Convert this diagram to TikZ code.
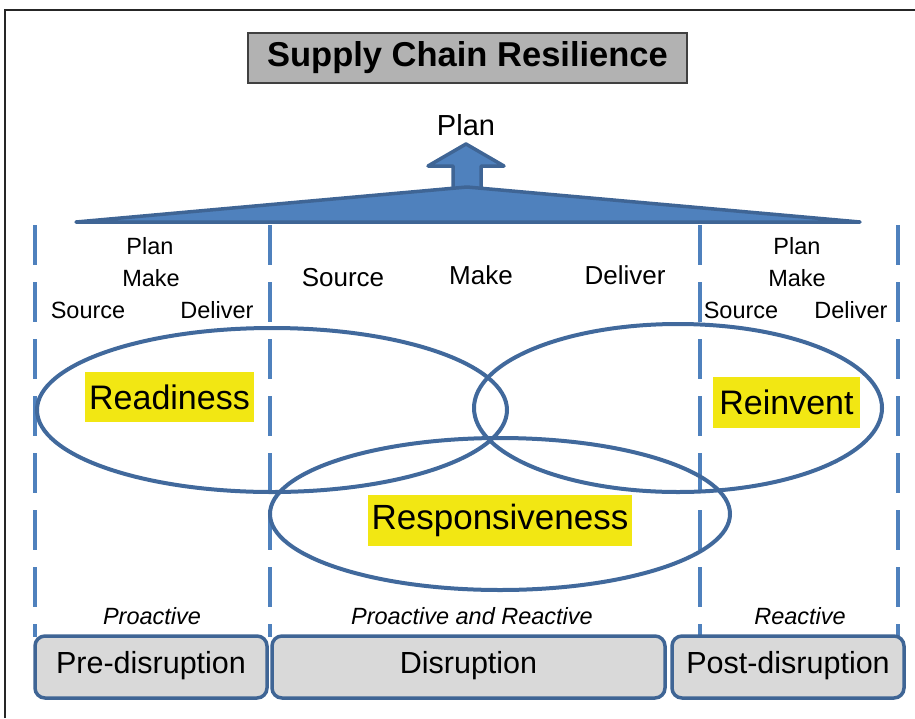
\documentclass[tikz,border=0pt]{standalone}
\usepackage{fontspec}
\setmainfont{Liberation Sans}
\definecolor{dashblue}{HTML}{4F81BD}
\definecolor{ringblue}{HTML}{41699C}
\definecolor{boxline}{HTML}{3F6595}
\definecolor{boxfill}{HTML}{D9D9D9}
\definecolor{titlefill}{HTML}{B2B2B2}
\definecolor{hilite}{HTML}{F2E713}
\begin{document}
\begin{tikzpicture}[x=1pt,y=-1pt,
  divider/.style={draw=dashblue,line width=4pt,dash pattern=on 40pt off 17pt},
  ring/.style={draw=ringblue,line width=4pt},
  phase/.style={draw=boxline,fill=boxfill,line width=3.5pt,rounded corners=10pt},
  phasetext/.style={font=\fontsize{30.5}{36}\selectfont,inner sep=0pt},
  small/.style={font=\fontsize{23.5}{28}\selectfont,inner sep=0pt},
  mid/.style={font=\fontsize{26}{31}\selectfont,inner sep=0pt},
  mode/.style={font=\fontsize{23.5}{28}\selectfont\itshape,inner sep=0pt},
  hl/.style={fill=hilite,inner sep=0pt,font=\fontsize{34}{40}\selectfont},
  planshape/.style={fill=dashblue,draw=boxline,line width=3.5pt,line join=round}]
\useasboundingbox (0,0) rectangle (915,718);
\fill[white] (0,0) rectangle (915,718);
% frame
\draw[line width=1.5pt,black!85] (5,718) -- (5,10) -- (915,10);
% title
\node[draw=black!75,fill=titlefill,line width=1.5pt,minimum width=439pt,minimum height=50pt,inner sep=0pt,
  font=\fontsize{34.5}{40}\selectfont\bfseries] (title) at (467.5,58) {Supply Chain Resilience};
\node[font=\fontsize{29}{34}\selectfont,inner sep=0pt] (plantop) at (466,125) {Plan};
% plan triangle and arrow
\draw[planshape] (453,190) -- (453,166) -- (428,166) -- (466,144) -- (504,166) -- (481,166) -- (481,190) -- cycle;
\draw[planshape] (76,222) -- (467,187) -- (860,222) -- cycle;
% dashed dividers
\coordinate (d1t) at (35,225); \coordinate (d1b) at (35,637);
\coordinate (d2t) at (270,225); \coordinate (d2b) at (270,637);
\coordinate (d3t) at (700,225); \coordinate (d3b) at (700,637);
\coordinate (d4t) at (898,225); \coordinate (d4b) at (898,637);
\draw[divider] (d1t) -- (d1b);
\draw[divider] (d2t) -- (d2b);
\draw[divider] (d3t) -- (d3b);
\draw[divider] (d4t) -- (d4b);
% ellipses
\draw[ring] (272,410) ellipse [x radius=235, y radius=82];
\draw[ring] (678,408) ellipse [x radius=204, y radius=84];
\draw[ring] (500,514) ellipse [x radius=230, y radius=76];
% highlighted labels
\node[hl,minimum width=169pt,minimum height=50pt] (ready) at (169.5,397) {Readiness};
\node[hl,minimum width=147pt,minimum height=51pt] (reinv) at (786.5,402.5) {Reinvent};
\node[hl,minimum width=264pt,minimum height=51pt,font=\fontsize{35}{40}\selectfont] (resp) at (500,520.5) {Responsiveness};
% SCOR labels
\node[small] (lplan) at (150,246) {Plan};
\node[small] (lmake) at (151,278) {Make};
\node[small] (lsrc) at (88,310) {Source};
\node[small] (ldel) at (217,310) {Deliver};
\node[mid] (msrc) at (343,278) {Source};
\node[mid] (mmake) at (481,275) {Make};
\node[mid] (mdel) at (625,275) {Deliver};
\node[small] (rplan) at (797,246) {Plan};
\node[small] (rmake) at (797,278) {Make};
\node[small] (rsrc) at (741,310) {Source};
\node[small] (rdel) at (851,310) {Deliver};
% modes
\node[mode] (m1) at (152,616) {Proactive};
\node[mode] (m2) at (472,616) {Proactive and Reactive};
\node[mode] (m3) at (800,616) {Reactive};
% phase boxes
\draw[phase] (35,636) rectangle (267,698);
\draw[phase] (272,636) rectangle (665,698);
\draw[phase] (672,636) rectangle (904,698);
\node[phasetext] (pre) at (151,666) {Pre-disruption};
\node[phasetext] (dis) at (468.5,666) {Disruption};
\node[phasetext] (post) at (788,666) {Post-disruption};
\end{tikzpicture}
\end{document}
